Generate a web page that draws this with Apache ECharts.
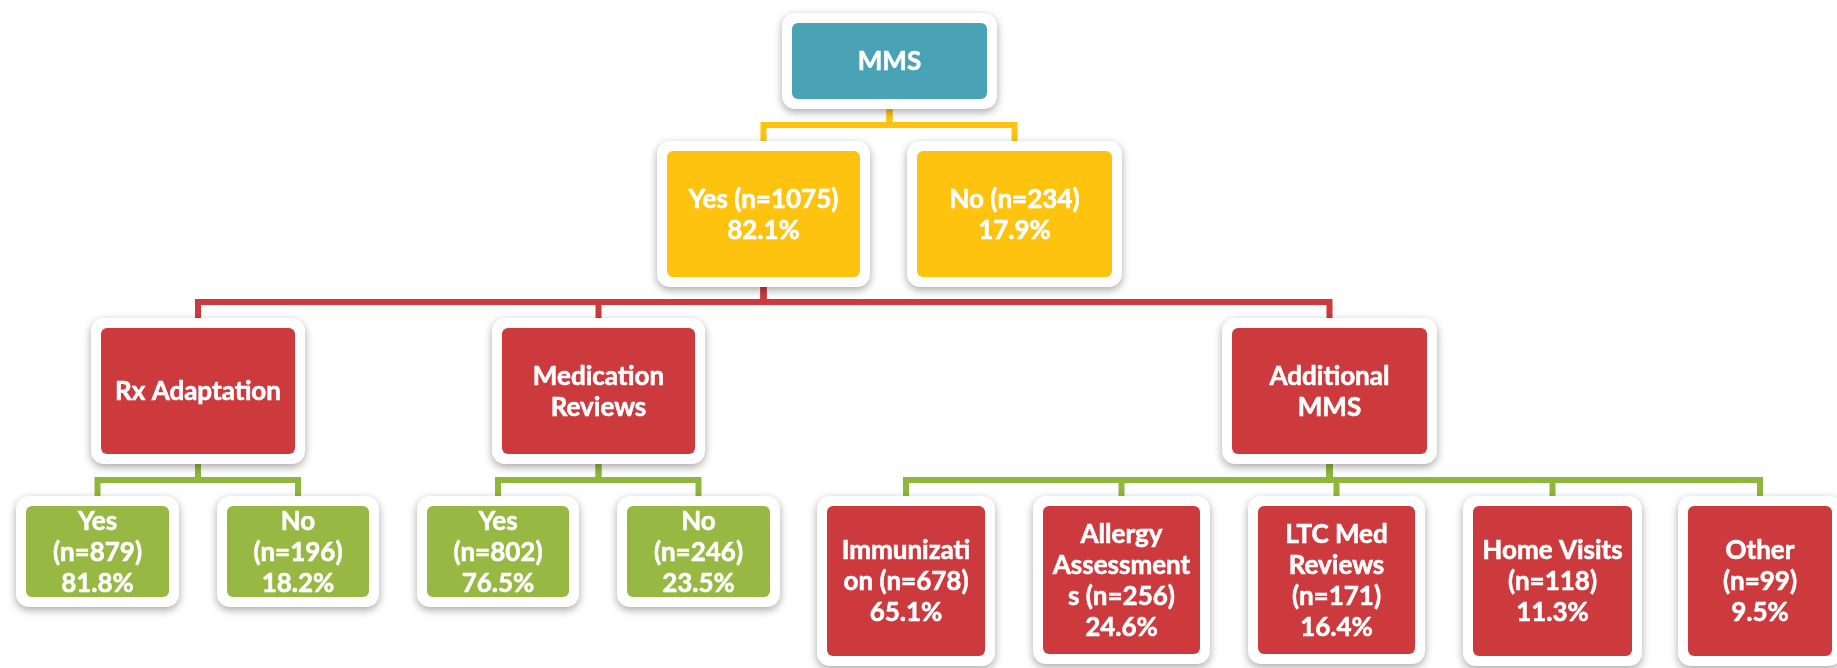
<!DOCTYPE html>
<html>
<head>
<meta charset="utf-8">
<title>MMS</title>
<script src="https://cdn.jsdelivr.net/npm/echarts@6/dist/echarts.min.js"></script>
<style>
  html, body { margin: 0; padding: 0; background: #fff; }
  #main { width: 1837px; height: 668px; }
</style>
</head>
<body>
<div id="main"></div>
<script>
// tree data: name (with its line breaks), n, share, parent index
var names = ['MMS', 'Yes ', 'No ', 'Rx Adaptation', 'Medication\nReviews', 'Additional\nMMS',
  'Yes\n', 'No\n', 'Yes\n', 'No\n',
  'Immunizati\non ', 'Allergy\nAssessment\ns ', 'LTC Med\nReviews\n', 'Home Visits\n', 'Other\n'];
var counts = [null, 1075, 234, null, null, null, 879, 196, 802, 246, 678, 256, 171, 118, 99];
var pcts = [null, 82.1, 17.9, null, null, null, 81.8, 18.2, 76.5, 23.5, 65.1, 24.6, 16.4, 11.3, 9.5];
var parents = [-1, 0, 0, 1, 1, 1, 3, 3, 4, 4, 5, 5, 5, 5, 5];
var levels = [0, 1, 1, 2, 2, 2, 3, 3, 3, 3, 3, 3, 3, 3, 3];

// layout in page pixels
var boxX = [889.5, 763.5, 1014.5, 198, 598.5, 1329.5, 97.5, 298, 498, 698.5, 906, 1121.5, 1336.5, 1552.5, 1760];
var boxW = [195, 193, 195, 194, 193, 195, 143, 142, 142, 143, 158, 157, 157, 159, 144];
var boxTop = [23, 151, 151, 328, 328, 328, 506, 506, 506, 506, 506, 506, 506, 506, 506];
var boxH = [76, 126, 126, 126, 126, 126, 91, 91, 91, 91, 150, 148, 148, 150, 150];
var busY = [null, 125, 302, 480];
var pad = 10;

var teal = '#49A2B5', yellow = '#FEC30F', red = '#CC3A3D', green = '#97B843';
var fills = [teal, yellow, yellow, red, red, red, green, green, green, green, red, red, red, red, red];
var lineColors = [null, yellow, red, '#8FB73E'];

function labelOf(i) {
  if (counts[i] == null) return names[i];
  return names[i] + '(n=' + counts[i] + ')\n' + pcts[i] + '%';
}

var boxData = names.map(function (n, i) {
  return [boxX[i], boxTop[i] + boxH[i] / 2, i];
});

var linkData = [];
parents.forEach(function (p, i) {
  if (p < 0) return;
  var y0 = boxTop[p] + boxH[p] + pad;
  var y1 = boxTop[i] - pad;
  var by = busY[levels[i]];
  linkData.push({
    coords: [[boxX[p], y0], [boxX[p], by], [boxX[i], by], [boxX[i], y1]],
    lineStyle: { color: lineColors[levels[i]] }
  });
});

function renderBox(params, api) {
  var i = api.value(2);
  var c = api.coord([api.value(0), api.value(1)]);
  var s = api.size([boxW[i], boxH[i]]);
  var w = s[0], h = s[1];
  return {
    type: 'group',
    children: [
      {
        type: 'rect',
        shape: { x: c[0] - w / 2 - pad, y: c[1] - h / 2 - pad, width: w + pad * 2, height: h + pad * 2, r: 13 },
        style: { fill: '#fff', shadowBlur: 8, shadowOffsetY: 3, shadowColor: 'rgba(0,0,0,0.35)' }
      },
      {
        type: 'rect',
        shape: { x: c[0] - w / 2, y: c[1] - h / 2, width: w, height: h, r: 6 },
        style: { fill: fills[i] }
      },
      {
        type: 'text',
        style: {
          text: labelOf(i),
          x: c[0], y: c[1] + 1,
          align: 'center', verticalAlign: 'middle',
          fill: '#fff',
          stroke: '#fff', lineWidth: 0.6,
          fontSize: 26, fontWeight: 'bold', fontFamily: 'Lato',
          lineHeight: 31
        }
      }
    ]
  };
}

var myChart = echarts.init(document.getElementById('main'));
var option = {
  animation: false,
  grid: { left: 0, right: 0, top: 0, bottom: 0 },
  xAxis: { type: 'value', min: 0, max: 1837, show: false },
  yAxis: { type: 'value', min: 0, max: 668, inverse: true, show: false },
  series: [
    {
      type: 'lines',
      coordinateSystem: 'cartesian2d',
      polyline: true,
      z: 1,
      lineStyle: { width: 6, opacity: 1 },
      data: linkData
    },
    {
      type: 'custom',
      z: 2,
      renderItem: renderBox,
      encode: { x: 0, y: 1 },
      data: boxData
    }
  ]
};
myChart.setOption(option);
</script>
</body>
</html>
